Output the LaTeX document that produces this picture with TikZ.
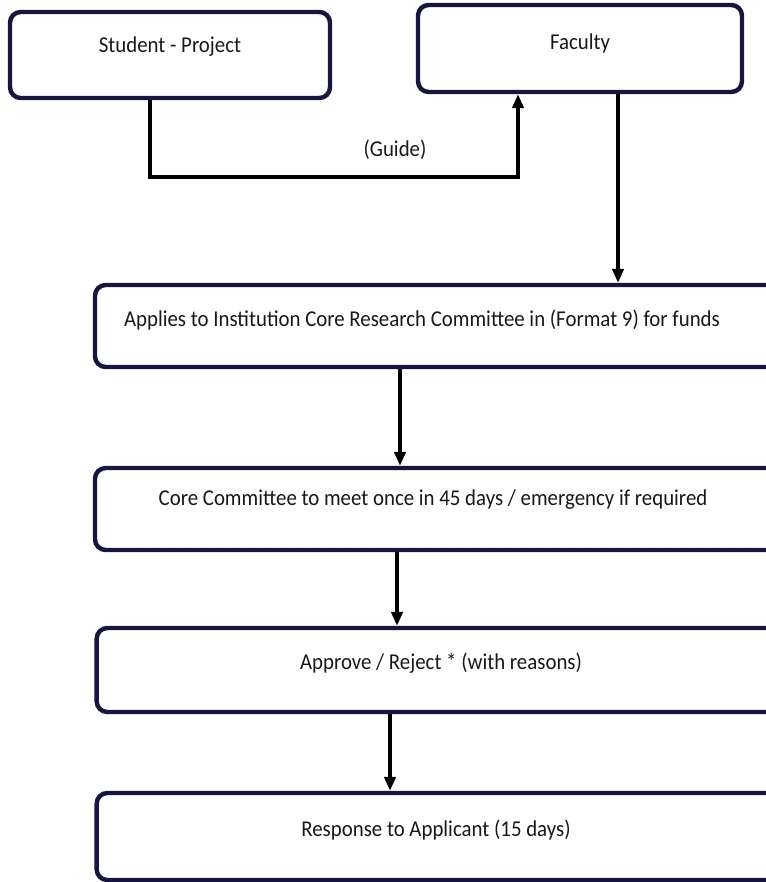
\documentclass[tikz,border=0pt]{standalone}
\usepackage{fontspec}
\setmainfont{Carlito}[FakeStretch=0.92]
\usetikzlibrary{arrows.meta}
\definecolor{navy}{HTML}{161640}
\tikzset{
  box/.style={draw=navy, line width=3.3pt, rounded corners=8pt, fill=white, inner sep=0pt},
  lbl/.style={font=\fontsize{17pt}{20pt}\selectfont, text=black!90, inner sep=0pt},
  arr/.style={draw=black, line width=2.6pt, -{Triangle[length=10.5pt,width=8.5pt]}},
}
\begin{document}
\begin{tikzpicture}[x=0.75pt, y=-0.75pt]
\useasboundingbox (0,0) rectangle (766,882);
\clip (0,0) rectangle (766,882);
% boxes
\node[box, minimum width=240pt, minimum height=64.5pt] (s) at (170,55) {};
\node[lbl] (st) at (170,47) {Student - Project};
\node[box, minimum width=243pt, minimum height=65.25pt] (f) at (580,48.5) {};
\node[lbl] (ft) at (580,43) {Faculty};
\node[box, minimum width=525pt, minimum height=61.5pt] (b3) at (445,326) {};
\node[lbl] (t3) at (422,320) {Applies to Institution Core Research Committee in (Format 9) for funds};
\node[box, minimum width=525pt, minimum height=61.5pt] (b4) at (445,509) {};
\node[lbl] (t4) at (433,500) {Core Committee to meet once in 45 days / emergency if required};
\node[box, minimum width=524pt, minimum height=63pt] (b5) at (446,670) {};
\node[lbl] (t5) at (441,663) {Approve / Reject * (with reasons)};
\node[box, minimum width=524pt, minimum height=65.25pt] (b6) at (446,836.5) {};
\node[lbl] (t6) at (436,830) {Response to Applicant (15 days)};
% connectors
\coordinate (g1) at (150,177);
\coordinate (g2) at (518,177);
\draw[arr] (s.south -| g1) -- (g1) -- (g2) -- (f.south -| g2);
\node[lbl] (gl) at (395,150) {(Guide)};
\coordinate (c1) at (618,0);
\draw[arr] (f.south -| c1) -- (b3.north -| c1);
\coordinate (c2) at (400,0);
\draw[arr] (b3.south -| c2) -- (b4.north -| c2);
\coordinate (c3) at (397,0);
\draw[arr] (b4.south -| c3) -- (b5.north -| c3);
\coordinate (c4) at (390,0);
\draw[arr] (b5.south -| c4) -- (b6.north -| c4);
\end{tikzpicture}
\end{document}
